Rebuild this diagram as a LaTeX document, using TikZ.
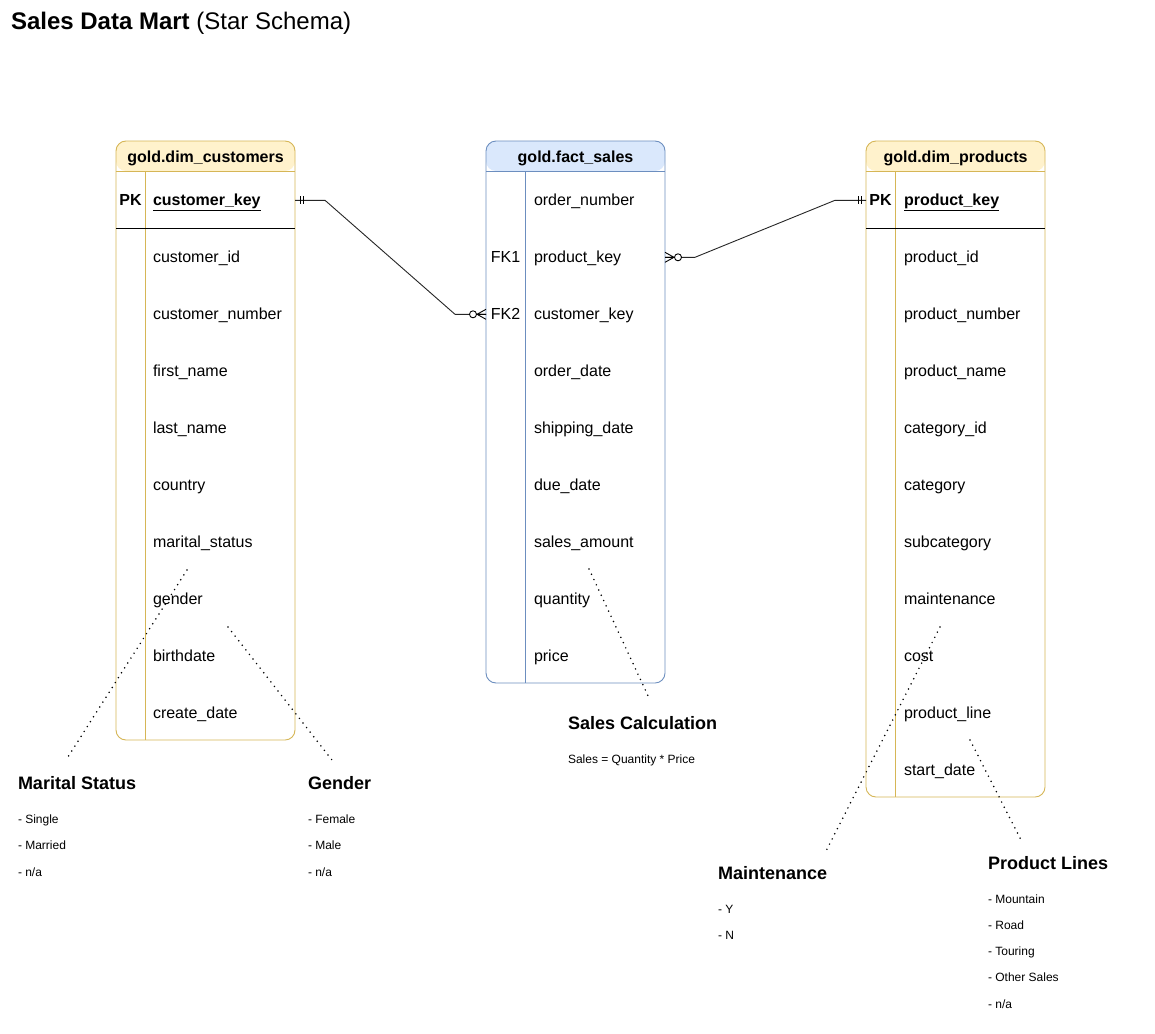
\documentclass[tikz,border=0pt]{standalone}
\usepackage{fontspec}
\setmainfont{Liberation Sans}
\definecolor{goldfill}{HTML}{FFF2CC}
\definecolor{goldline}{HTML}{D6B656}
\definecolor{bluefill}{HTML}{DAE8FC}
\definecolor{blueline}{HTML}{6C8EBF}
\tikzset{
  every node/.style={inner sep=0pt, outer sep=0pt},
  tablebox/.style={draw=#1, rounded corners=10pt, minimum width=179pt, line width=0.9pt, anchor=north west},
  headfill/.style={path picture={\fill[#1] (path picture bounding box.north west) rectangle ([yshift=-30pt]path picture bounding box.north east);}},
  headtext/.style={font=\bfseries\fontsize{16}{19}\selectfont, text height=12.5pt, text depth=1.5pt},
  fieldtext/.style={font=\fontsize{16}{19}\selectfont, anchor=west, text height=12.5pt, text depth=1.5pt},
  keytext/.style={font=\bfseries\fontsize{16}{19}\selectfont, text height=12.5pt, text depth=1.5pt},
  fktext/.style={font=\fontsize{16}{19}\selectfont, text height=12.5pt, text depth=1.5pt},
  notetitle/.style={font=\bfseries\fontsize{18}{22}\selectfont, anchor=base west},
  notetext/.style={font=\fontsize{12}{14}\selectfont, anchor=base west},
  erline/.style={line width=0.9pt, black!85},
  noteline/.style={line width=1.7pt, line cap=round, dash pattern=on 0pt off 5.8pt},
  mandone/.pic={\draw[line width=0.9pt] (5,-4) -- (5,4) (8,-4) -- (8,4);},
  zeromany/.pic={\draw[line width=0.9pt] (0,-5) -- (9,0) -- (0,5) (0,0) -- (9,0);
                 \draw[line width=0.9pt, fill=white] (13,0) circle (3.5pt);}
}
\begin{document}
\begin{tikzpicture}[x=1pt, y=-1pt]
    \useasboundingbox (0,0) rectangle (1155,1033);
    \fill[white] (0,0) rectangle (1155,1033);

    % Title
    \node[anchor=base west, font=\fontsize{24}{29}\selectfont] (title) at (11,29.4)
        {\textbf{Sales Data Mart} (Star Schema)};

    % gold.dim_customers
    \node[tablebox=goldline, headfill=goldfill, minimum height=599pt] (cust) at (116,141) {};
    \draw[goldline, line width=0.9pt] (116,171) -- (295,171) (145,171) -- (145,740);
    \node[headtext] (custhead) at (205.5,156.8) {gold.dim\_customers};
    \node[keytext] (cpk) at (130.5,200.3) {PK};
    \node[fieldtext, font=\bfseries\fontsize{16}{19}\selectfont] (ckey) at (153,200.3) {\underline{customer\_key}};
    \draw[line width=0.9pt] (116,228) -- (295,228);
    \foreach \fld [count=\i] in {customer\_id, customer\_number, first\_name, last\_name, country,
        marital\_status, gender, birthdate, create\_date}
        \node[fieldtext] (c\i) at (153,{200.3+57*\i}) {\fld};

    % gold.fact_sales
    \node[tablebox=blueline, headfill=bluefill, minimum height=542pt] (fact) at (486,141) {};
    \draw[blueline, line width=0.9pt] (486,171) -- (665,171) (525,171) -- (525,683);
    \node[headtext] (facthead) at (575.5,156.8) {gold.fact\_sales};
    \foreach \fld [count=\i] in {order\_number, product\_key, customer\_key, order\_date, shipping\_date,
        due\_date, sales\_amount, quantity, price}
        \node[fieldtext] (f\i) at (534,{143.3+57*\i}) {\fld};
    \node[fktext] (fk1) at (505.5,257.3) {FK1};
    \node[fktext] (fk2) at (505.5,314.3) {FK2};

    % gold.dim_products
    \node[tablebox=goldline, headfill=goldfill, minimum height=656pt] (prod) at (866,141) {};
    \draw[goldline, line width=0.9pt] (866,171) -- (1045,171) (895,171) -- (895,797);
    \node[headtext] (prodhead) at (955.5,156.8) {gold.dim\_products};
    \node[keytext] (ppk) at (880.5,200.3) {PK};
    \node[fieldtext, font=\bfseries\fontsize{16}{19}\selectfont] (pkey) at (904,200.3) {\underline{product\_key}};
    \draw[line width=0.9pt] (866,228) -- (1045,228);
    \foreach \fld [count=\i] in {product\_id, product\_number, product\_name, category\_id, category,
        subcategory, maintenance, cost, product\_line, start\_date}
        \node[fieldtext] (p\i) at (904,{200.3+57*\i}) {\fld};

    % Relationships
    \draw[erline] (cust.east |- ckey) -- ++(30,0) -- ([xshift=-31pt]fact.west |- f3) -- (fact.west |- f3);
    \draw[erline] (prod.west |- pkey) -- ++(-31,0) -- ([xshift=30pt]fact.east |- f2) -- (fact.east |- f2);
    \pic at (cust.east |- ckey) {mandone};
    \pic[xscale=-1] at (prod.west |- pkey) {mandone};
    \pic[xscale=-1] at (fact.west |- f3) {zeromany};
    \pic at (fact.east |- f2) {zeromany};

    % Notes
    \node[notetitle] (mstitle) at (18,789.3) {Marital Status};
    \foreach \itm [count=\i] in {Single, Married, n/a}
        \node[notetext] (ms\i) at (18,{796.7+26.5*\i}) {- \itm};
    \node[notetitle] (gdtitle) at (308,789.3) {Gender};
    \foreach \itm [count=\i] in {Female, Male, n/a}
        \node[notetext] (gd\i) at (308,{796.7+26.5*\i}) {- \itm};
    \node[notetitle] (sctitle) at (568,729.3) {Sales Calculation};
    \node[notetext] (sc1) at (568,763.2) {Sales = Quantity * Price};
    \node[notetitle] (mttitle) at (718,879.3) {Maintenance};
    \foreach \itm [count=\i] in {Y, N}
        \node[notetext] (mt\i) at (718,{887.2+26*\i}) {- \itm};
    \node[notetitle] (pltitle) at (988,869.3) {Product Lines};
    \foreach \itm [count=\i] in {Mountain, Road, Touring, Other Sales, n/a}
        \node[notetext] (pl\i) at (988,{876.95+26.25*\i}) {- \itm};

    % Dotted pointers
    \coordinate (msA) at (187,570);  \coordinate (msB) at (66,760);
    \coordinate (gdA) at (228,627);  \coordinate (gdB) at (332,760);
    \coordinate (scA) at (589,569);  \coordinate (scB) at (650,700);
    \coordinate (mtA) at (940,627);  \coordinate (mtB) at (826,851);
    \coordinate (plA) at (970,740);  \coordinate (plB) at (1021,840);
    \foreach \a/\b in {msA/msB, gdA/gdB, scA/scB, mtA/mtB, plA/plB}
        \draw[noteline] (\a) -- (\b);
\end{tikzpicture}
\end{document}
